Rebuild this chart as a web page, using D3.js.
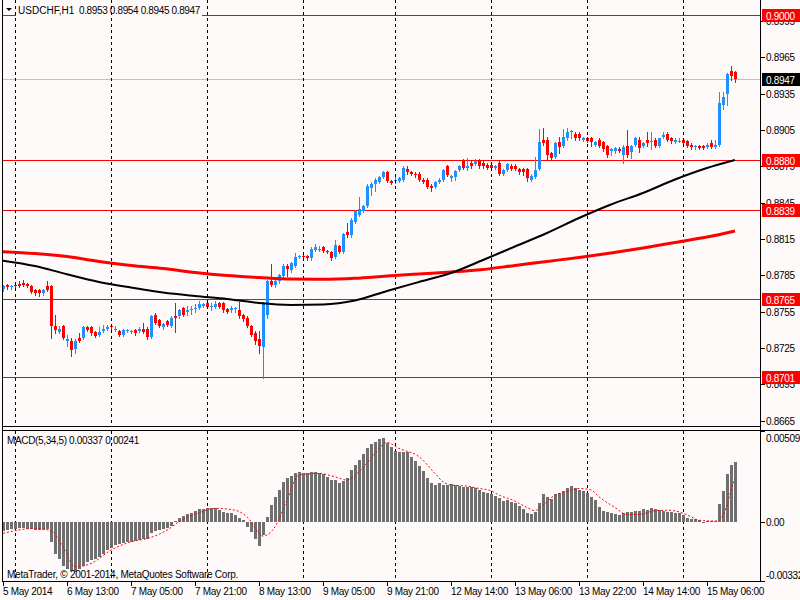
<!DOCTYPE html>
<html>
<head>
<meta charset="utf-8">
<script src="https://cdn.jsdelivr.net/npm/d3@7"></script>
<style>
  html, body { margin: 0; padding: 0; background: #fffafa; }
  svg { display: block; font-family: "Liberation Sans", Arial, sans-serif; font-size: 10px; letter-spacing: -0.3px; }
</style>
</head>
<body>
<svg id="chart" width="800" height="600"></svg>
<script>
// USDCHF H1, prices in pips (x 1e-4)
const opens = [
  8774,8777,8775,8777,8778,8779,8778,8776,8773,8773, 8770,8776,8776,8743,8738,8743,8731,8731,8724,8733,
  8733,8742,8742,8738,8736,8739,8741,8743,8740,8739, 8736,8739,8738,8740,8739,8741,8741,8734,8752,8748,
  8742,8747,8743,8751,8751,8758,8755,8756,8757,8758, 8760,8762,8759,8759,8762,8762,8757,8756,8757,8756,
  8752,8750,8743,8737,8732,8726,8752,8780,8777,8780, 8784,8793,8789,8793,8800,8801,8801,8799,8806,8806,
  8808,8805,8804,8800,8809,8804,8821,8818,8829,8835, 8838,8842,8857,8860,8862,8866,8870,8863,8863,8863,
  8864,8873,8870,8869,8869,8864,8864,8859,8858,8862, 8864,8875,8865,8866,8872,8880,8874,8878,8877,8880,
  8878,8876,8876,8874,8878,8869,8872,8875,8875,8873, 8873,8873,8864,8866,8873,8897,8897,8886,8883,8895,
  8892,8898,8903,8902,8902,8897,8898,8898,8893,8897, 8895,8892,8888,8888,8889,8884,8892,8887,8893,8897,
  8892,8897,8895,8897,8892,8899,8902,8898,8895,8895, 8897,8896,8893,8891,8892,8892,8891,8894,8891,8893,
  8926,8935,8954,8953
];
const highs = [
  8777,8778,8777,8778,8780,8781,8779,8777,8774,8774, 8774,8780,8777,8752,8743,8744,8736,8733,8732,8737,
  8743,8743,8743,8739,8742,8744,8744,8744,8743,8740, 8741,8741,8740,8741,8742,8746,8742,8752,8754,8749,
  8746,8748,8751,8762,8757,8759,8760,8760,8761,8764, 8762,8763,8762,8764,8763,8763,8758,8760,8759,8763,
  8753,8751,8744,8739,8739,8763,8781,8794,8782,8786, 8794,8794,8796,8803,8802,8802,8802,8808,8811,8809,
  8809,8806,8805,8814,8810,8820,8828,8832,8839,8850, 8843,8860,8862,8865,8867,8871,8871,8864,8868,8866,
  8875,8875,8871,8870,8870,8865,8865,8860,8863,8865, 8873,8876,8868,8872,8876,8881,8882,8879,8881,8881,
  8879,8878,8877,8876,8879,8873,8878,8877,8877,8874, 8874,8874,8869,8883,8906,8907,8899,8887,8895,8899,
  8906,8907,8905,8903,8903,8899,8899,8899,8896,8898, 8896,8893,8890,8891,8891,8893,8905,8893,8899,8899,
  8895,8903,8903,8898,8898,8903,8903,8899,8898,8898, 8898,8897,8894,8893,8893,8893,8894,8897,8897,8936,
  8936,8952,8958,8954
];
const lows = [
  8772,8774,8774,8775,8775,8776,8775,8770,8769,8768, 8769,8772,8733,8737,8737,8732,8727,8718,8721,8730,
  8732,8739,8736,8734,8735,8738,8740,8741,8739,8735, 8735,8738,8737,8736,8738,8737,8732,8733,8745,8742,
  8741,8743,8742,8738,8750,8751,8752,8753,8755,8757, 8759,8758,8756,8758,8758,8755,8754,8755,8755,8750,
  8747,8742,8735,8728,8721,8700,8750,8776,8775,8779, 8783,8784,8788,8792,8799,8799,8798,8798,8805,8805,
  8804,8803,8798,8799,8803,8803,8817,8817,8828,8834, 8837,8841,8851,8855,8861,8865,8862,8860,8861,8862,
  8863,8869,8868,8866,8863,8861,8857,8855,8857,8861, 8863,8867,8863,8864,8871,8873,8872,8874,8876,8874,
  8874,8873,8872,8873,8868,8868,8871,8872,8872,8869, 8868,8863,8863,8865,8872,8893,8880,8881,8882,8886,
  8891,8897,8898,8897,8897,8896,8895,8892,8892,8891, 8888,8883,8884,8886,8887,8878,8883,8882,8892,8887,
  8891,8892,8889,8891,8891,8898,8896,8894,8894,8895, 8893,8891,8889,8889,8889,8889,8890,8890,8890,8892,
  8922,8926,8946,8945
];
const closes = [
  8776,8775,8776,8776,8776,8777,8776,8771,8770,8770, 8773,8773,8743,8740,8741,8733,8732,8723,8731,8731,
  8742,8740,8737,8735,8738,8741,8742,8742,8741,8736, 8740,8740,8739,8737,8741,8738,8734,8751,8746,8743,
  8745,8744,8750,8750,8756,8752,8756,8757,8758,8761, 8761,8759,8760,8761,8759,8756,8755,8758,8758,8751,
  8749,8743,8736,8731,8727,8762,8780,8777,8780,8785, 8793,8790,8795,8800,8801,8800,8799,8807,8808,8807,
  8805,8804,8799,8810,8804,8819,8818,8831,8838,8840, 8842,8859,8860,8864,8866,8870,8863,8861,8864,8865,
  8874,8870,8869,8868,8864,8862,8858,8857,8862,8864, 8872,8868,8867,8871,8875,8874,8875,8875,8879,8875,
  8875,8874,8874,8875,8869,8872,8877,8873,8873,8870, 8870,8865,8867,8872,8895,8894,8884,8882,8894,8891,
  8899,8903,8904,8898,8898,8898,8896,8895,8895,8892, 8889,8884,8889,8890,8888,8891,8884,8892,8898,8890,
  8894,8894,8896,8892,8898,8901,8897,8896,8897,8896, 8894,8892,8891,8892,8890,8890,8893,8891,8893,8927,
  8932,8951,8950,8947
];

// moving averages read every 8 bars
const maIdx   = [0,8,16,24,32,40,48,56,64,72,80,88,96,104,112,120,128,136,144,152,160,168,176,183];
const maBlack = [0.87971,0.87927,0.87858,0.87795,0.87749,0.87708,0.87679,0.87654,0.87621,0.87605,0.87609,0.87642,
                 0.87720,0.87795,0.87869,0.87976,0.88088,0.88199,0.88323,0.88435,0.88530,0.88641,0.88736,0.88802];
const maRed   = [0.88045,0.88030,0.88005,0.87964,0.87931,0.87906,0.87873,0.87848,0.87832,0.87819,0.87817,0.87825,
                 0.87844,0.87861,0.87877,0.87898,0.87931,0.87964,0.87997,0.88034,0.88076,0.88121,0.88166,0.88216];

// MACD(5,34,5) histogram
const macd = [
  -0.00052,-0.00047,-0.00043,-0.00039,-0.00037,-0.00037,-0.00041,-0.00043,-0.00047,-0.00047,
  -0.00047,-0.00043,-0.00112,-0.00178,-0.00206,-0.00247,-0.00267,-0.00275,-0.00281,-0.00262,
  -0.00247,-0.00224,-0.00215,-0.00206,-0.00196,-0.00178,-0.00159,-0.00146,-0.00131,-0.00125,
  -0.00118,-0.00114,-0.00112,-0.00107,-0.00103,-0.00099,-0.00097,-0.00065,-0.00052,-0.00047,
  -0.00043,-0.00037,-0.00024,0.00004,0.00024,0.00032,0.00043,0.00052,0.00062,0.00069,
  0.00073,0.00075,0.00077,0.00075,0.00065,0.00056,0.00050,0.00047,0.00037,0.00019,
  0.00009,-0.00028,-0.00056,-0.00099,-0.00137,-0.00075,0.00028,0.00094,0.00137,0.00178,
  0.00221,0.00243,0.00256,0.00271,0.00277,0.00275,0.00271,0.00277,0.00277,0.00271,
  0.00266,0.00249,0.00234,0.00234,0.00215,0.00230,0.00247,0.00290,0.00318,0.00346,
  0.00378,0.00411,0.00436,0.00445,0.00464,0.00468,0.00439,0.00421,0.00398,0.00393,
  0.00393,0.00389,0.00365,0.00342,0.00314,0.00286,0.00243,0.00219,0.00206,0.00215,
  0.00206,0.00206,0.00211,0.00206,0.00200,0.00196,0.00196,0.00193,0.00187,0.00178,
  0.00168,0.00159,0.00155,0.00144,0.00131,0.00116,0.00122,0.00112,0.00103,0.00088,
  0.00069,0.00047,0.00043,0.00056,0.00103,0.00155,0.00140,0.00127,0.00153,0.00163,
  0.00174,0.00187,0.00200,0.00191,0.00181,0.00174,0.00163,0.00140,0.00122,0.00084,
  0.00062,0.00056,0.00050,0.00041,0.00037,0.00047,0.00056,0.00056,0.00062,0.00062,
  0.00069,0.00065,0.00075,0.00069,0.00065,0.00062,0.00056,0.00056,0.00050,0.00047,
  0.00037,0.00024,0.00015,0.00015,0.00009,-0.00006,0.00004,0.00004,0.00004,0.00099,
  0.00174,0.00267,0.00318,0.00337
];
// signal line, read at these bars
const sigIdx = [0,8,12,15,18,22,27,32,36,41,44,49,53,58,61,65,68,71,74,79,83,86,89,93,96,
                99,104,108,110,112,116,119,122,124,128,131,133,134,136,138,141,144,147,149,153,156,159,163,166,169,172,174,178,179,181,182,183];
const sigVal = [-0.00065,-0.00037,-0.00050,-0.00140,-0.00252,-0.00234,-0.00159,-0.00112,-0.00094,-0.00047,0.00000,0.00050,0.00075,0.00065,0.00028,-0.00080,-0.00028,0.00122,0.00262,0.00271,0.00252,0.00234,0.00281,0.00383,0.00445,
                0.00411,0.00365,0.00271,0.00224,0.00206,0.00200,0.00187,0.00174,0.00150,0.00116,0.00080,0.00062,0.00075,0.00112,0.00150,0.00168,0.00187,0.00178,0.00140,0.00080,0.00041,0.00041,0.00062,0.00065,0.00056,0.00028,0.00009,0.00004,0.00009,0.00094,0.00178,0.00241];

const levels = [0.9000, 0.8880, 0.8839, 0.8765, 0.8701];
const lastPrice = 0.8947;
const priceTicks = [0.8995,0.8965,0.8935,0.8905,0.8875,0.8845,0.8815,0.8785,0.8755,0.8725,0.8695,0.8665];
const macdTicks = [0.00509, 0.00, -0.00332];
const macdTickText = ["0.00509", "0.00", "-0.00332"];
const dayStarts = [3, 27, 51, 75, 98, 122, 146, 170];
const timeIdx = [0,16,32,48,64,80,96,112,128,144,160,176];
const timeLabels = ["5 May 2014","6 May 13:00","7 May 05:00","7 May 21:00","8 May 13:00","9 May 05:00",
                    "9 May 21:00","12 May 14:00","13 May 06:00","13 May 22:00","14 May 14:00","15 May 06:00"];

const BG = "#fffafa", BULL = "#1e90ff", BEAR = "#ff0000";
const left = 2.5, right = 760.5;
const mainTop = 0, mainBot = 426.5, subTop = 430.5, subBot = 581.5;

const bars = closes.map((c, i) => ({i, o: opens[i] / 1e4, h: highs[i] / 1e4, l: lows[i] / 1e4, c: c / 1e4}));

const x = d3.scaleLinear().domain([0, 183]).range([3, 735]);
const y = d3.scaleLinear().domain([0.86601, 0.90099]).range([426.5, 3]);
const ym = d3.scaleLinear().domain([-0.00332, 0.00509]).range([581, 431]);

const svg = d3.select("#chart");
svg.append("rect").attr("width", 800).attr("height", 600).attr("fill", BG);

const defs = svg.append("defs");
defs.append("clipPath").attr("id", "clipMain").append("rect")
    .attr("x", left).attr("y", mainTop).attr("width", right - left).attr("height", mainBot - mainTop);
defs.append("clipPath").attr("id", "clipSub").append("rect")
    .attr("x", left).attr("y", subTop).attr("width", right - left).attr("height", subBot - subTop);

const px = v => Math.round(v);

// horizontal levels + last price line
const main = svg.append("g").attr("clip-path", "url(#clipMain)").attr("shape-rendering", "crispEdges");
main.append("line")
    .attr("x1", left).attr("x2", right)
    .attr("y1", px(y(lastPrice)) + 0.5).attr("y2", px(y(lastPrice)) + 0.5)
    .attr("stroke", "#c0c0c0");
main.selectAll(".lvl").data(levels).join("line")
    .attr("x1", left).attr("x2", right)
    .attr("y1", d => px(y(d)) + 0.5).attr("y2", d => px(y(d)) + 0.5)
    .attr("stroke", "#ff0000");

// title background hides the level line under the text
svg.append("rect").attr("x", 16).attr("y", 4).attr("width", 186).attr("height", 15).attr("fill", BG);

// day separators
const grid = svg.append("g").attr("shape-rendering", "crispEdges");
[[mainTop, mainBot - 0.5], [subTop + 0.5, subBot - 0.5]].forEach(([a, b]) => {
  grid.selectAll(null).data(dayStarts).join("line")
      .attr("x1", d => px(x(d)) + 0.5).attr("x2", d => px(x(d)) + 0.5)
      .attr("y1", a).attr("y2", b)
      .attr("stroke", "#000").attr("stroke-dasharray", "3,3");
});

// moving averages
const maLine = vals => d3.line()
    .x((d, k) => x(maIdx[k]))
    .y(d => y(d))
    .curve(d3.curveMonotoneX)(vals);
const maG = svg.append("g").attr("clip-path", "url(#clipMain)");
maG.append("path").attr("d", maLine(maRed)).attr("fill", "none").attr("stroke", "#ff0000").attr("stroke-width", 3);
maG.append("path").attr("d", maLine(maBlack)).attr("fill", "none").attr("stroke", "#000").attr("stroke-width", 2);

// candles
const cg = main.append("g");
const candle = cg.selectAll("g").data(bars).join("g");
candle.append("line")
    .attr("x1", d => px(x(d.i)) + 0.5).attr("x2", d => px(x(d.i)) + 0.5)
    .attr("y1", d => px(y(d.h))).attr("y2", d => px(y(d.l)) + 1)
    .attr("stroke", d => d.c >= d.o ? BULL : BEAR);
candle.append("rect")
    .attr("x", d => px(x(d.i)) - 1)
    .attr("width", 3)
    .attr("y", d => px(y(Math.max(d.o, d.c))))
    .attr("height", d => Math.max(1, px(y(Math.min(d.o, d.c))) - px(y(Math.max(d.o, d.c)))))
    .attr("fill", d => d.c >= d.o ? BULL : BEAR);

// MACD
const sub = svg.append("g").attr("clip-path", "url(#clipSub)");
sub.append("g").attr("shape-rendering", "crispEdges")
  .selectAll("rect").data(macd).join("rect")
    .attr("x", (d, i) => px(x(i)) - 1)
    .attr("width", 3)
    .attr("y", d => px(Math.min(ym(d), ym(0))))
    .attr("height", d => Math.max(1, Math.abs(px(ym(d)) - px(ym(0)))))
    .attr("fill", "#6f6f6f");
sub.append("path")
    .attr("d", d3.line().x((d, k) => x(sigIdx[k])).y(d => ym(d)).curve(d3.curveMonotoneX)(sigVal))
    .attr("fill", "none").attr("stroke", "#ff0000").attr("stroke-width", 1).attr("stroke-dasharray", "2,2");

// frames
const frame = svg.append("g").attr("stroke", "#000").attr("shape-rendering", "crispEdges");
frame.append("line").attr("x1", left).attr("x2", left).attr("y1", 0).attr("y2", subBot);
frame.append("line").attr("x1", right).attr("x2", right).attr("y1", 0).attr("y2", subBot);
frame.append("line").attr("x1", left).attr("x2", right).attr("y1", mainBot).attr("y2", mainBot);
frame.append("line").attr("x1", left).attr("x2", 800).attr("y1", subTop).attr("y2", subTop);
frame.append("line").attr("x1", left).attr("x2", right).attr("y1", subBot).attr("y2", subBot);

// price axis
const axisG = svg.append("g");
axisG.selectAll(".pt").data(priceTicks).join("line")
    .attr("x1", right).attr("x2", right + 4)
    .attr("y1", d => px(y(d)) + 0.5).attr("y2", d => px(y(d)) + 0.5)
    .attr("stroke", "#000").attr("shape-rendering", "crispEdges");
axisG.selectAll(".pl").data(priceTicks).join("text")
    .attr("x", 766).attr("y", d => y(d) + 4)
    .attr("fill", "#000")
    .text(d => d.toFixed(4));

// level tags
const tags = svg.append("g");
const tag = (v, fill) => {
  const g = tags.append("g");
  g.append("rect").attr("x", 762).attr("y", px(y(v)) - 6).attr("width", 38).attr("height", 13).attr("fill", fill);
  g.append("text").attr("x", 766).attr("y", px(y(v)) + 4.5).attr("fill", "#fff").text(v.toFixed(4));
};
levels.forEach(v => tag(v, "#ff0000"));
tag(lastPrice, "#000");

// MACD axis
macdTicks.forEach((v, k) => {
  const ty = Math.min(Math.max(ym(v), subTop + 7), subBot - 7);
  axisG.append("line").attr("x1", right).attr("x2", right + 4)
      .attr("y1", px(ym(v)) + 0.5).attr("y2", px(ym(v)) + 0.5)
      .attr("stroke", "#000").attr("shape-rendering", "crispEdges");
  axisG.append("text").attr("x", 766).attr("y", ty + 4).attr("fill", "#000").text(macdTickText[k]);
});

// time axis
axisG.selectAll(".tt").data(timeIdx).join("line")
    .attr("x1", d => px(x(d)) + 0.5).attr("x2", d => px(x(d)) + 0.5)
    .attr("y1", subBot).attr("y2", subBot + 4)
    .attr("stroke", "#000").attr("shape-rendering", "crispEdges");
axisG.selectAll(".tl").data(timeIdx).join("text")
    .attr("x", d => x(d)).attr("y", 595)
    .attr("fill", "#000")
    .text((d, k) => timeLabels[k]);

// titles (MT4 font is wider than Arial, so stretch to the measured widths)
svg.append("path").attr("d", "M6,8 L12,8 L9,11 Z").attr("fill", "#000");
const last = bars[bars.length - 1];
svg.append("text").attr("x", 18).attr("y", 14).attr("fill", "#000")
    .attr("textLength", 56).attr("lengthAdjust", "spacing").text("USDCHF,H1");
svg.append("text").attr("x", 79).attr("y", 14).attr("fill", "#000")
    .attr("textLength", 121).attr("lengthAdjust", "spacing")
    .text([last.o, last.h, last.l, last.c].map(v => v.toFixed(4)).join(" "));
svg.append("text").attr("x", 7).attr("y", 444).attr("fill", "#000")
    .attr("textLength", 132).attr("lengthAdjust", "spacing")
    .text(`MACD(5,34,5) ${macd[macd.length - 1].toFixed(5)} ${sigVal[sigVal.length - 1].toFixed(5)}`);
svg.append("text").attr("x", 7).attr("y", 578).attr("fill", "#000")
    .attr("textLength", 231).attr("lengthAdjust", "spacing")
    .text("MetaTrader, \u00a9 2001-2014, MetaQuotes Software Corp.");
</script>
</body>
</html>
